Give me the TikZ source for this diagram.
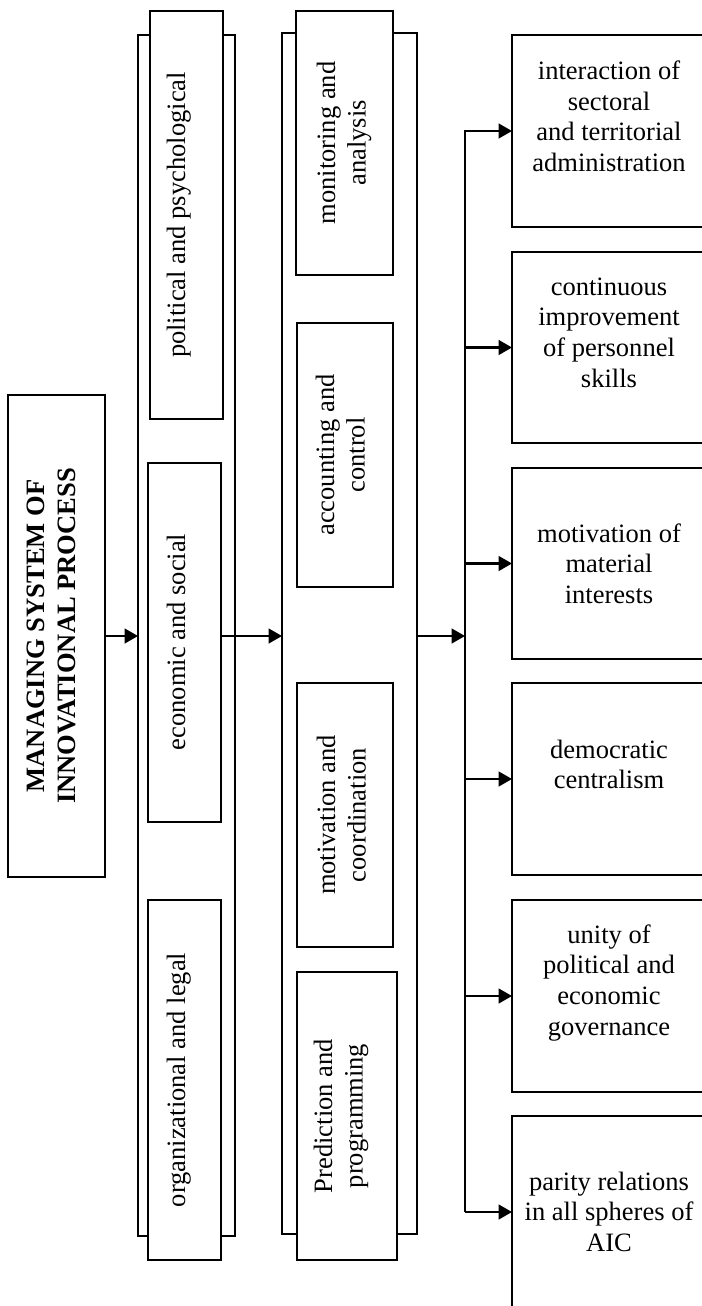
\documentclass[tikz,border=0pt]{standalone}
\usepackage{fontspec}
\setmainfont{Liberation Serif}
\usetikzlibrary{arrows.meta}

% rectangle node given by its corner coordinates (in px units)
\newcommand\pxbox[6]{%
  \node[frame, minimum width={(#4-#2)*0.75pt}, minimum height={(#5-#3)*0.75pt}, #6]
    (#1) at ({(#2+#4)/2},{(#3+#5)/2}) {};}

\tikzset{
  frame/.style={draw, line width=1.3pt, fill=white, inner sep=0pt, outer sep=0pt},
  arr/.style={line width=1.6pt, -{Triangle[length=10pt,width=11pt]}},
  lbl/.style={inner sep=0pt, font=\fontsize{19.9}{23}\selectfont},
  vlbl/.style={lbl, rotate=90, anchor=base},
  hlbl/.style={lbl, anchor=base},
}

\begin{document}
\begin{tikzpicture}[x=0.75pt, y=-0.75pt]
\useasboundingbox (0,0) rectangle (702,1306);
\clip (0,0) rectangle (702,1306);

% title block
\pxbox{main}{8}{395}{105}{877}{}
\node[vlbl, font=\fontsize{19.9}{23}\selectfont\bfseries] (ttl) at (44.5,636)
  {\begin{tabular}[t]{@{}c@{}}MANAGING SYSTEM OF\\INNOVATIONAL PROCESS\end{tabular}};

% first column: frame and its three boxes
\pxbox{lcol}{138}{35}{235}{1236}{}
\pxbox{pol}{150}{11}{223}{419}{}
\pxbox{eco}{148}{463}{221}{822}{}
\pxbox{org}{148}{900}{221}{1260}{}
\node[vlbl] (tpol) at (185,215) {political and psychological};
\node[vlbl] (teco) at (185,642) {economic and social};
\node[vlbl] (torg) at (185,1080) {organizational and legal};

% second column: frame and its four boxes
\pxbox{mcol}{282}{33}{417}{1234}{}
\pxbox{mon}{296}{11}{393}{275}{}
\pxbox{acc}{297}{323}{393}{587}{}
\pxbox{mot}{297}{683}{393}{947}{}
\pxbox{pre}{297}{972}{397}{1260}{}
\node[vlbl] (tmon) at (335,143)
  {\begin{tabular}[t]{@{}c@{}}monitoring and\\analysis\end{tabular}};
\node[vlbl] (tacc) at (334,455)
  {\begin{tabular}[t]{@{}c@{}}accounting and\\control\end{tabular}};
\node[vlbl] (tmot) at (335,815)
  {\begin{tabular}[t]{@{}c@{}}motivation and\\coordination\end{tabular}};
\node[vlbl] (tpre) at (332,1116)
  {\begin{tabular}[t]{@{}c@{}}Prediction and\\programming\end{tabular}};

% principles on the right
\pxbox{r1}{512}{35}{706}{227}{}
\pxbox{r2}{512}{252}{706}{443}{}
\pxbox{r3}{512}{468}{706}{659}{}
\pxbox{r4}{512}{683}{706}{875}{}
\pxbox{r5}{512}{900}{706}{1092}{}
\pxbox{r6}{512}{1116}{706}{1308}{}
\node[hlbl] (t1) at (609,79.5)
  {\begin{tabular}[t]{@{}c@{}}interaction of\\sectoral\\and territorial\\administration\end{tabular}};
\node[hlbl] (t2) at (609,295)
  {\begin{tabular}[t]{@{}c@{}}continuous\\improvement\\of personnel\\skills\end{tabular}};
\node[hlbl] (t3) at (609,542)
  {\begin{tabular}[t]{@{}c@{}}motivation of\\material\\interests\end{tabular}};
\node[hlbl] (t4) at (609,758)
  {\begin{tabular}[t]{@{}c@{}}democratic\\centralism\end{tabular}};
\node[hlbl] (t5) at (609,943)
  {\begin{tabular}[t]{@{}c@{}}unity of\\political and\\economic\\governance\end{tabular}};
\node[hlbl] (t6) at (609,1190)
  {\begin{tabular}[t]{@{}c@{}}parity relations\\in all spheres of\\AIC\end{tabular}};

% connectors
\coordinate (bus) at (465,636);
\draw[arr] (main.east) -- (lcol.west |- main.east);
\draw[arr] (eco.east |- main.east) -- (mcol.west |- main.east);
\draw[arr] (mcol.east |- main.east) -- (bus);
\draw[arr] (bus |- r6.west) -- (bus |- r1.west) -- (r1.west);
\foreach \r in {r2,r3,r4,r5,r6}
  \draw[arr] (bus |- \r.west) -- (\r.west);
\end{tikzpicture}
\end{document}
